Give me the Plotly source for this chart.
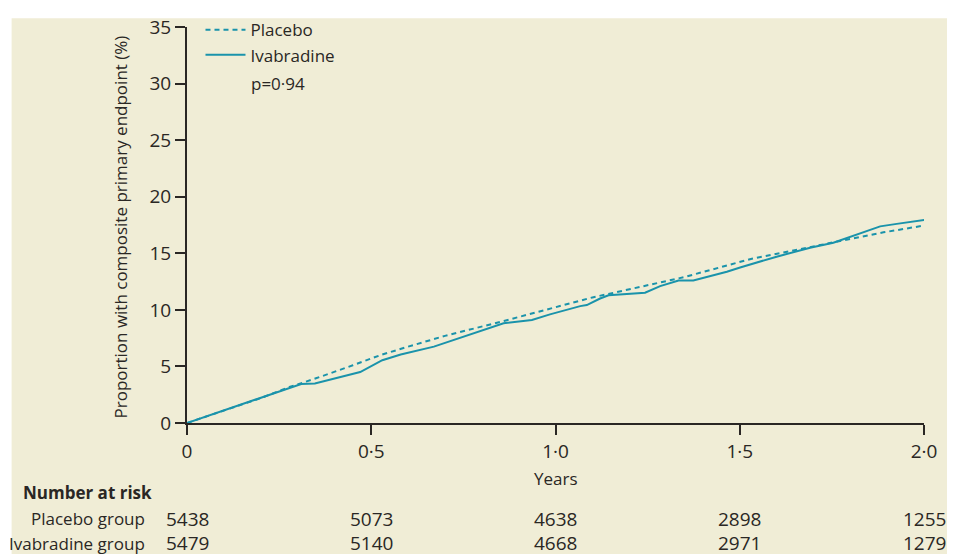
import plotly.graph_objects as go

# ---- data ----
placebo_t = [0, 0.1, 0.2, 0.28, 0.35, 0.45, 0.525, 0.6, 0.7, 0.86, 1.0, 1.1, 1.15, 1.35, 1.53, 1.71, 1.89, 2.0]
placebo_v = [0, 1.1, 2.2, 3.2, 3.95, 5.1, 6.0, 6.75, 7.7, 9.02, 10.2, 11.1, 11.45, 12.9, 14.5, 15.7, 16.85, 17.45]

ivab_t = [0, 0.1, 0.2, 0.31, 0.347, 0.47, 0.53, 0.58, 0.67, 0.78, 0.859, 0.936, 0.985, 1.067, 1.085,
          1.121, 1.144, 1.243, 1.284, 1.334, 1.374, 1.465, 1.501, 1.6, 1.691, 1.754, 1.881, 1.926, 2.013]
ivab_v = [0, 1.1, 2.2, 3.45, 3.5, 4.5, 5.55, 6.05, 6.75, 7.95, 8.82, 9.11, 9.6, 10.33, 10.42,
          11.0, 11.29, 11.51, 12.1, 12.59, 12.6, 13.37, 13.75, 14.7, 15.49, 15.93, 17.38, 17.6, 18.0]

x_tickvals = [0, 0.5, 1.0, 1.5, 2.0]
x_ticktext = ["0", "0·5", "1·0", "1·5", "2·0"]
y_tickvals = [0, 5, 10, 15, 20, 25, 30, 35]

risk_times = [0, 0.5, 1.0, 1.5, 2.0]
risk_placebo = [5438, 5073, 4638, 2898, 1255]
risk_ivab = [5479, 5140, 4668, 2971, 1279]

# ---- style ----
BG = "#F0EDD6"
TEAL = "#1A93AB"
INK = "#2A2724"
FONT = "Open Sans"
FS = 17
FN = 19

W, H = 962, 554
L, R, T, B = 186.5, 924, 21, 423
pw, ph = R - L, B - T


def px(xp):
    return (xp - L) / pw


def py(yp):
    return (B - yp) / ph


fig = go.Figure()
fig.add_trace(go.Scatter(x=placebo_t, y=placebo_v, mode="lines", name="Placebo",
                         line=dict(color=TEAL, width=2, dash="5px,4px")))
fig.add_trace(go.Scatter(x=ivab_t, y=ivab_v, mode="lines", name="Ivabradine",
                         line=dict(color=TEAL, width=2)))

ann = []
ann.append(dict(text="p=0·94", x=px(249), y=py(78), xref="paper", yref="paper",
                xanchor="left", yanchor="middle", showarrow=False))
ann.append(dict(text="Proportion with composite primary endpoint (%)", x=px(120), y=py(224),
                xref="paper", yref="paper", textangle=-90, xanchor="center", yanchor="middle",
                showarrow=False))
ann.append(dict(text="Years", x=1.0, y=py(479), xref="x", yref="paper",
                xanchor="center", yanchor="middle", showarrow=False))
ann.append(dict(text="<b>Number at risk</b>", x=px(20), y=py(494), xref="paper", yref="paper",
                xanchor="left", yanchor="middle", showarrow=False))
ann.append(dict(text="Placebo group", x=px(146), y=py(520), xref="paper", yref="paper",
                xanchor="right", yanchor="middle", showarrow=False))
ann.append(dict(text="Ivabradine group", x=px(146), y=py(545), xref="paper", yref="paper",
                xanchor="right", yanchor="middle", showarrow=False))
for t, n in zip(risk_times, risk_placebo):
    ann.append(dict(text=str(n), x=t, y=py(520), xref="x", yref="paper", font=dict(size=FN),
                    xanchor="center", yanchor="middle", showarrow=False))
for t, n in zip(risk_times, risk_ivab):
    ann.append(dict(text=str(n), x=t, y=py(545), xref="x", yref="paper", font=dict(size=FN),
                    xanchor="center", yanchor="middle", showarrow=False))

fig.update_layout(
    width=W, height=H,
    margin=dict(l=L, r=W - R, t=T, b=H - B, pad=0),
    paper_bgcolor="white",
    plot_bgcolor=BG,
    font=dict(family=FONT, size=FS, color=INK),
    showlegend=True,
    legend=dict(x=px(200), y=py(6), xanchor="left", yanchor="top",
                bgcolor="rgba(0,0,0,0)", itemwidth=40, font=dict(size=FS),
                tracegroupgap=0),
    annotations=ann,
    shapes=[dict(type="rect", xref="paper", yref="paper", layer="below",
                 x0=px(11), x1=px(947), y0=py(560), y1=py(12),
                 fillcolor=BG, line=dict(width=0))],
    xaxis=dict(range=[0, 2.0], tickvals=x_tickvals, ticktext=x_ticktext,
               showgrid=False, zeroline=False, showline=True, linecolor=INK, linewidth=2,
               ticks="outside", ticklen=10, tickwidth=2, tickcolor=INK,
               tickfont=dict(size=FN), fixedrange=True),
    yaxis=dict(range=[0, 35], tickvals=y_tickvals,
               showgrid=False, zeroline=False, showline=True, linecolor=INK, linewidth=2,
               ticks="outside", ticklen=10, tickwidth=2, tickcolor=INK,
               tickfont=dict(size=FN), fixedrange=True),
)

fig.write_html("out.html", config={"displayModeBar": False},
               post_script="document.body.style.margin='0';document.body.style.overflow='hidden';")
